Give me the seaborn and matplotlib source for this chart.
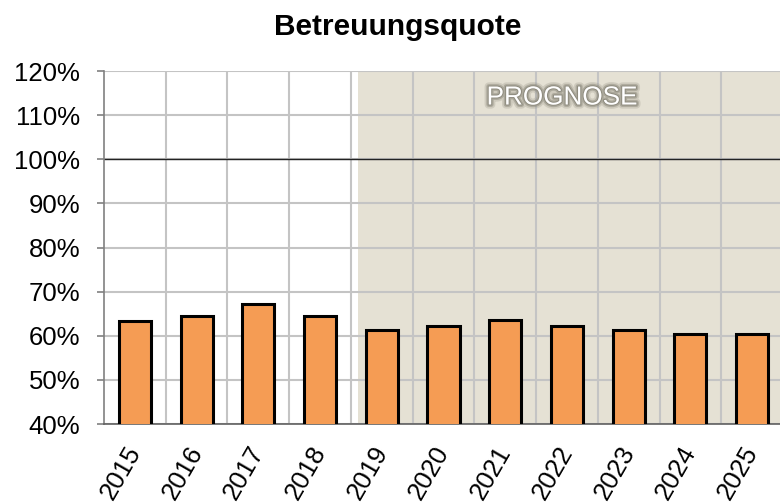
import matplotlib
matplotlib.use("Agg")
import matplotlib.pyplot as plt
import matplotlib.patheffects as pe
import matplotlib.transforms as mtrans
import seaborn as sns
import pandas as pd
import numpy as np

# data
years = ["2015", "2016", "2017", "2018", "2019", "2020",
         "2021", "2022", "2023", "2024", "2025"]
quote = [63.4, 64.5, 67.2, 64.5, 61.2, 62.2, 63.6, 62.2, 61.3, 60.4, 60.4]
prognose_start = "2019"

sns.set_style("white")
plt.rcParams["font.family"] = ["Liberation Sans", "DejaVu Sans"]
plt.rcParams["text.color"] = "black"
plt.rcParams["xtick.color"] = "black"
plt.rcParams["ytick.color"] = "black"

df = pd.DataFrame({"Jahr": years, "Quote": quote})

fig = plt.figure(figsize=(7.8, 5.03), dpi=100)
ax = fig.add_axes([0.1333, 0.157, 0.8705, 0.7018])

sns.barplot(data=df, x="Jahr", y="Quote", color="#F59C54", width=0.52,
            edgecolor="black", linewidth=2.2, saturation=1, ax=ax, zorder=3)

# shaded forecast region
i0 = years.index(prognose_start)
ax.axvspan(i0 - 0.39, len(years) - 0.5, color="#E5E1D4", zorder=0, lw=0)
glow = [pe.withStroke(linewidth=6, foreground="#8C897C", alpha=0.25),
        pe.withStroke(linewidth=3.5, foreground="#8C897C", alpha=0.5),
        pe.withStroke(linewidth=1.5, foreground="#8C897C", alpha=0.9)]
ax.text(i0 + 2.92, 114.0, "PROGNOSE", ha="center",
        va="center", fontsize=18.8, color="white", path_effects=glow, zorder=4)

ax.set_xlim(-0.5, len(years) - 0.5)
ax.set_ylim(40, 120)
ticks = np.arange(40, 121, 10)
ax.set_yticks(ticks)
ax.set_yticklabels([f"{t}%" for t in ticks], fontsize=18.5)
ax.set_xticks(range(len(years)))
ax.set_xticklabels(years, rotation=60, fontsize=18.5, ha="center", va="top")
ax.tick_params(axis="x", length=0, pad=13)
ax.tick_params(axis="y", length=5, width=1.2, color="#808080", left=True, pad=12)
shift = mtrans.ScaledTranslation(-0.14, 0, fig.dpi_scale_trans)
for lab in ax.get_xticklabels():
    lab.set_transform(lab.get_transform() + shift)

# grid
ax.set_xticks(np.arange(0.5, len(years) - 0.5, 1), minor=True)
ax.tick_params(axis="x", which="minor", length=0)
ax.grid(axis="x", which="minor", color="#C4C4C4", lw=1.5, zorder=1)
ax.grid(axis="y", which="major", color="#C4C4C4", lw=1.5, zorder=1)
ax.axhline(100, color="#222222", lw=1.0, zorder=2)
ax.set_axisbelow(True)

for s in ["top", "right"]:
    ax.spines[s].set_visible(False)
ax.spines["left"].set_color("#808080")
ax.spines["left"].set_linewidth(1.2)
ax.spines["bottom"].set_color("#606060")
ax.spines["bottom"].set_linewidth(1.2)

ax.set_xlabel("")
ax.set_ylabel("")
fig.suptitle("Betreuungsquote", x=0.51, y=0.975, fontsize=21.5, fontweight="bold")

fig.savefig("out.png", dpi=100)
